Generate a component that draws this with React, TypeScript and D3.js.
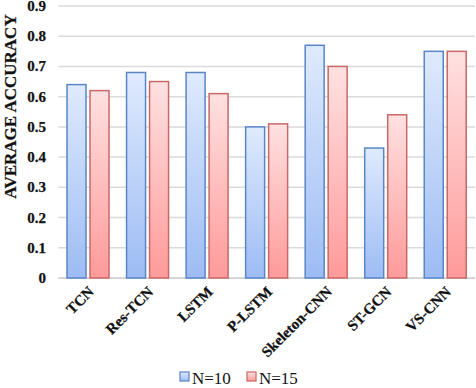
import React from "react";
import * as d3 from "d3";

const categories = ["TCN", "Res-TCN", "LSTM", "P-LSTM", "Skeleton-CNN", "ST-GCN", "VS-CNN"];
const seriesNames = ["N=10", "N=15"];
const n10 = [0.64, 0.68, 0.68, 0.5, 0.77, 0.43, 0.75];
const n15 = [0.62, 0.65, 0.61, 0.51, 0.7, 0.54, 0.75];
const yTicks = [0, 0.1, 0.2, 0.3, 0.4, 0.5, 0.6, 0.7, 0.8, 0.9];

const W = 476;
const H = 388;
const left = 58.25;
const right = 475;
const top = 6;
const bottom = 278;

const FONT = "Liberation Serif";

export default function App() {
  const x = d3.scaleBand<string>().domain(categories).range([left, right]).padding(0);
  const y = d3.scaleLinear().domain([0, 0.9]).range([bottom, top]);
  const step = x.step();
  const barW = 19;
  const gap = 4;
  const groupW = barW * 2 + gap;
  const series = [
    { name: seriesNames[0], values: n10, fill: "url(#gBlue)", stroke: "#5a86c6" },
    { name: seriesNames[1], values: n15, fill: "url(#gRed)", stroke: "#c96868" },
  ];
  return (
    <svg
      width={W}
      height={H}
      style={{ position: "absolute", left: 0, top: 0, background: "#fff" }}
    >
      <defs>
        <linearGradient id="gBlue" x1="0" y1="0" x2="0" y2="1">
          <stop offset="0" stopColor="#dfeafd" />
          <stop offset="1" stopColor="#9dbcf4" />
        </linearGradient>
        <linearGradient id="gRed" x1="0" y1="0" x2="0" y2="1">
          <stop offset="0" stopColor="#ffe1e1" />
          <stop offset="1" stopColor="#ff9a9a" />
        </linearGradient>
      </defs>
      {yTicks.map((t) => (
        <g key={t}>
          <line
            x1={left}
            x2={right}
            y1={y(t)}
            y2={y(t)}
            stroke={t === 0 ? "#c8c8c8" : "#dadada"}
            strokeWidth={1.5}
          />
          <text
            x={46}
            y={y(t)}
            dy="0.33em"
            textAnchor="end"
            fontFamily={FONT}
            fontWeight="bold"
            fontSize={15}
            fill="#111"
            stroke="#111"
            strokeWidth={0.25}
          >
            {t === 0 ? "0" : d3.format(".1f")(t)}
          </text>
        </g>
      ))}
      <text
        transform={`translate(10, ${(13 + 200) / 2}) rotate(-90)`}
        textAnchor="middle"
        dy="0.35em"
        fontFamily={FONT}
        fontWeight="bold"
        fontSize={17}
        fill="#111"
        stroke="#111"
        strokeWidth={0.25}
      >
        AVERAGE ACCURACY
      </text>
      {categories.map((c, i) => {
        const gx = (x(c) as number) + (step - groupW) / 2;
        return (
          <g key={c}>
            {series.map((s, j) => {
              const v = s.values[i];
              const bx = gx + j * (barW + gap);
              return (
                <rect
                  key={s.name}
                  x={bx}
                  y={y(v)}
                  width={barW}
                  height={y(0) - y(v)}
                  fill={s.fill}
                  stroke={s.stroke}
                  strokeWidth={1.5}
                />
              );
            })}
            <text
              transform={`translate(${(x(c) as number) + step / 2 + 3}, ${bottom + 11}) rotate(-45)`}
              textAnchor="end"
              dy="0.35em"
              fontFamily={FONT}
              fontWeight="bold"
              fontSize={15}
              fill="#111"
              stroke="#111"
              strokeWidth={0.25}
            >
              {c}
            </text>
          </g>
        );
      })}
      {series.map((s, j) => {
        const lx = 180 + j * 67;
        return (
          <g key={s.name}>
            <rect x={lx} y={372} width={9} height={9} fill={s.fill} stroke={s.stroke} strokeWidth={1.2} />
            <text x={lx + 12} y={384} fontFamily={FONT} fontSize={17} fill="#111">
              {s.name}
            </text>
          </g>
        );
      })}
    </svg>
  );
}
